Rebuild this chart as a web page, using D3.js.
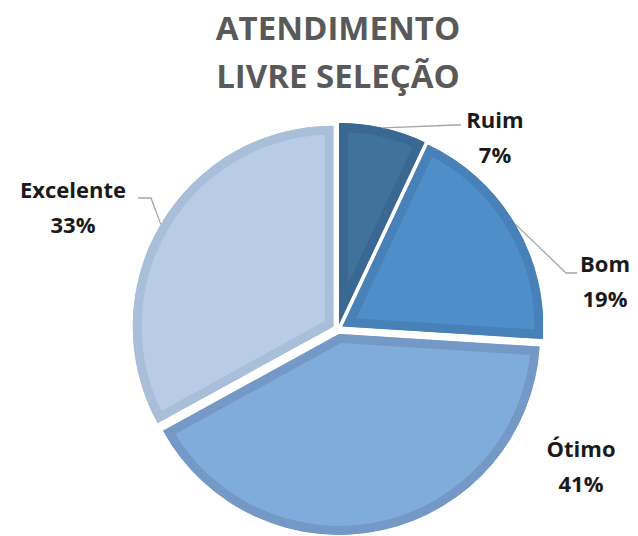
<!DOCTYPE html>
<html>
<head>
<meta charset="utf-8">
<script src="https://cdn.jsdelivr.net/npm/d3@7"></script>
<style>
  body { margin: 0; background: #fff; }
  svg { display: block; }
</style>
</head>
<body>
<div id="chart"></div>
<script>
// data
const categories = ["Ruim", "Bom", "Ótimo", "Excelente"];
const values = [7, 19, 41, 33];
const fills = ["#41719d", "#4f8fc9", "#80acdb", "#b8cce8"];
const borders = ["#3a6893", "#4881b8", "#7599c6", "#a8bed9"];
const titleLines = ["ATENDIMENTO", "LIVRE SELEÇÃO"];

// label placement, offset from the pie centre: [x, y of first line, elbow x, elbow y, line end x]
const labelLayout = [
  { x: 157, y: -201, ex: 118, ey: -204, lx: 123 },
  { x: 267, y: -57, ex: 228, ey: -56, lx: 239 },
  { x: 243, y: 128, ex: null },
  { x: -265, y: -131, ex: -187, ey: -131, lx: -200 }
];

const width = 638, height = 536;
const cx = 338, cy = 329;
const radius = 201;
const explode = 5;
const borderW = 9;

const svg = d3.select("#chart").append("svg")
  .attr("width", width)
  .attr("height", height);

// title
svg.append("g").selectAll("text")
  .data(titleLines)
  .enter()
  .append("text")
  .attr("x", 338)
  .attr("y", (d, i) => 40 + i * 48)
  .attr("text-anchor", "middle")
  .style("font-family", "'Open Sans', sans-serif")
  .style("font-weight", "bold")
  .style("font-size", "33px")
  .style("fill", "#595959")
  .text(d => d);

const pie = d3.pie().sort(null).value(d => d);
const arcs = pie(values);

const arc = d3.arc().innerRadius(0).outerRadius(radius);

const plot = svg.append("g")
  .attr("transform", `translate(${cx},${cy})`);

const defs = svg.append("defs");

const slices = plot.selectAll("g.slice")
  .data(arcs)
  .enter()
  .append("g")
  .attr("class", "slice")
  .attr("transform", d => {
    const a = (d.startAngle + d.endAngle) / 2;
    return `translate(${Math.sin(a) * explode},${-Math.cos(a) * explode})`;
  });

slices.each(function(d, i) {
  defs.append("clipPath")
    .attr("id", "clip" + i)
    .append("path")
    .attr("d", arc(d));
});

// fill, then a border kept inside the slice by clipping
slices.append("path")
  .attr("d", arc)
  .style("fill", (d, i) => fills[i])
  .style("stroke", (d, i) => borders[i])
  .style("stroke-width", borderW * 2)
  .style("stroke-linejoin", "miter")
  .attr("clip-path", (d, i) => `url(#clip${i})`);

// leader lines
const edge = radius + explode;
plot.selectAll("polyline")
  .data(arcs.filter((d, i) => labelLayout[i].ex !== null))
  .enter()
  .append("polyline")
  .attr("points", d => {
    const L = labelLayout[d.index];
    const a = (d.startAngle + d.endAngle) / 2;
    return [[Math.sin(a) * edge, -Math.cos(a) * edge], [L.ex, L.ey], [L.lx, L.ey]].join(" ");
  })
  .style("fill", "none")
  .style("stroke", "#a6a6a6")
  .style("stroke-width", 1.3);

// labels
const total = d3.sum(values);
const labels = plot.selectAll("text.label")
  .data(arcs)
  .enter()
  .append("text")
  .attr("class", "label")
  .attr("text-anchor", "middle")
  .style("font-family", "'Open Sans', sans-serif")
  .style("font-weight", "bold")
  .style("font-size", "22px")
  .style("fill", "#1a1a1a");

labels.append("tspan")
  .attr("x", (d, i) => labelLayout[i].x)
  .attr("y", (d, i) => labelLayout[i].y)
  .text((d, i) => categories[i]);

labels.append("tspan")
  .attr("x", (d, i) => labelLayout[i].x)
  .attr("y", (d, i) => labelLayout[i].y + 35)
  .text(d => Math.round(d.value / total * 100) + "%");
</script>
</body>
</html>
